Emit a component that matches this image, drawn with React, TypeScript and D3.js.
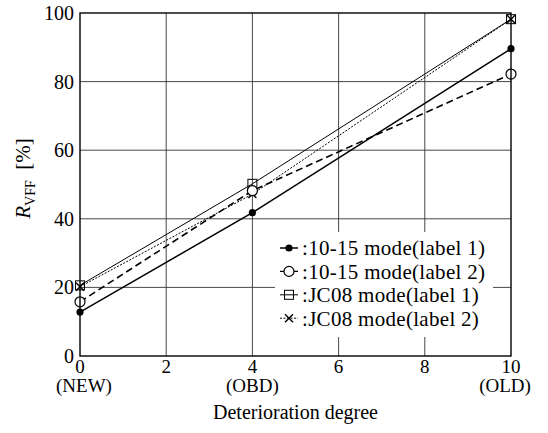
import React from "react";
import * as d3 from "d3";

const xValues = [0, 4, 10];
const series1015L1 = [12.8, 41.8, 89.6];
const series1015L2 = [15.8, 48.2, 82.2];
const seriesJC08L1 = [20.6, 50.2, 98.2];
const seriesJC08L2 = [20.2, 47.2, 98.2];
const xTicks = [0, 2, 4, 6, 8, 10];
const xSubLabels = [
  { v: 0, t: "(NEW)" },
  { v: 4, t: "(OBD)" },
  { v: 10, t: "(OLD)" },
];
const yTicks = [0, 20, 40, 60, 80, 100];
const legendLabels = [
  ":10-15 mode(label 1)",
  ":10-15 mode(label 2)",
  ":JC08 mode(label 1)",
  ":JC08 mode(label 2)",
];

const W = 548, H = 433;
const L = 80, R = 511, T = 13, B = 356;
const FONT = "'Liberation Serif', 'Times New Roman', serif";

type Kind = "filled" | "open" | "square" | "cross";

function Marker({ kind, x, y }: { kind: Kind; x: number; y: number }) {
  if (kind === "filled") return <circle cx={x} cy={y} r={3.6} fill="#000" />;
  if (kind === "open") return <circle cx={x} cy={y} r={5} fill="#fff" stroke="#000" strokeWidth={1.2} />;
  if (kind === "square")
    return <rect x={x - 4.5} y={y - 4.5} width={9} height={9} fill="none" stroke="#000" strokeWidth={1} />;
  return (
    <g stroke="#000" strokeWidth={1.4}>
      <line x1={x - 4} y1={y - 4} x2={x + 4} y2={y + 4} />
      <line x1={x - 4} y1={y + 4} x2={x + 4} y2={y - 4} />
    </g>
  );
}

export default function App() {
  const x = d3.scaleLinear().domain([0, 10]).range([L, R]);
  const y = d3.scaleLinear().domain([0, 100]).range([B, T]);
  const line = d3
    .line<[number, number]>()
    .x((d) => x(d[0]))
    .y((d) => y(d[1]));

  const series: { vals: number[]; kind: Kind; dash?: string; width: number }[] = [
    { vals: seriesJC08L2, kind: "cross", dash: "2,1.5", width: 1 },
    { vals: seriesJC08L1, kind: "square", width: 1 },
    { vals: series1015L2, kind: "open", dash: "7,4", width: 1.6 },
    { vals: series1015L1, kind: "filled", width: 1.5 },
  ];

  const legendKinds: Kind[] = ["filled", "open", "square", "cross"];
  const legendDash = [undefined, "4,3", undefined, "2,1.5"];
  const legendW = [1.5, 1.2, 1, 1];
  const legY0 = 248, legDy = 23.4;

  return (
    <svg
      width={W}
      height={H}
      style={{ position: "absolute", left: 0, top: 0, background: "#fff" }}
      fontFamily={FONT}
    >
      <rect x={0} y={0} width={W} height={H} fill="#fff" />
      {/* grid */}
      {yTicks.slice(1, -1).map((v) => (
        <line key={"gy" + v} x1={L} x2={R} y1={y(v)} y2={y(v)} stroke="#333" strokeWidth={0.9} />
      ))}
      {xTicks.slice(1, -1).map((v) => (
        <line key={"gx" + v} x1={x(v)} x2={x(v)} y1={T} y2={B} stroke="#333" strokeWidth={0.9} />
      ))}
      {/* series */}
      {series.map((s, i) => (
        <path
          key={"s" + i}
          d={line(xValues.map((xv, j) => [xv, s.vals[j]] as [number, number])) || ""}
          fill="none"
          stroke="#000"
          strokeWidth={s.width}
          strokeDasharray={s.dash}
        />
      ))}
      {series.map((s, i) =>
        xValues.map((xv, j) => <Marker key={"m" + i + "-" + j} kind={s.kind} x={x(xv)} y={y(s.vals[j])} />)
      )}
      {/* legend */}
      <rect x={275} y={232} width={218} height={105} fill="#fff" />
      {legendLabels.map((t, i) => {
        const ly = legY0 + i * legDy;
        return (
          <g key={"lg" + i}>
            <line x1={280} x2={298} y1={ly} y2={ly} stroke="#000" strokeWidth={legendW[i]} strokeDasharray={legendDash[i]} />
            <Marker kind={legendKinds[i]} x={289} y={ly} />
            <text x={302} y={ly} dy="0.35em" fontSize={21} letterSpacing={0.3} fill="#000">
              {t}
            </text>
          </g>
        );
      })}
      {/* frame */}
      <rect x={L} y={T} width={R - L} height={B - T} fill="none" stroke="#000" strokeWidth={1.4} />
      {/* y ticks */}
      {yTicks.map((v) => (
        <text key={"yt" + v} x={L - 6} y={y(v)} dy="0.35em" textAnchor="end" fontSize={20}>
          {v}
        </text>
      ))}
      {/* x ticks */}
      {xTicks.map((v) => (
        <text key={"xt" + v} x={x(v)} y={B + 10} dy="0.35em" textAnchor="middle" fontSize={19}>
          {v}
        </text>
      ))}
      {xSubLabels.map((d) => (
        <text key={"xs" + d.v} x={x(d.v) + (d.v === 0 ? 4 : d.v === 10 ? -6 : 0)} y={B + 29} dy="0.35em" textAnchor="middle" fontSize={19}>
          {d.t}
        </text>
      ))}
      <text x={(L + R) / 2} y={B + 56} dy="0.35em" textAnchor="middle" fontSize={20}>
        Deterioration degree
      </text>
      {/* y title */}
      <text transform={`translate(30, ${(T + B) / 2 - 6}) rotate(-90)`} textAnchor="middle" fontSize={21}>
        <tspan fontStyle="italic">R</tspan>
        <tspan fontSize={14} dy={5}>VFF</tspan>
        <tspan dy={-5}>{"\u00a0\u00a0[%]"}</tspan>
      </text>
    </svg>
  );
}
